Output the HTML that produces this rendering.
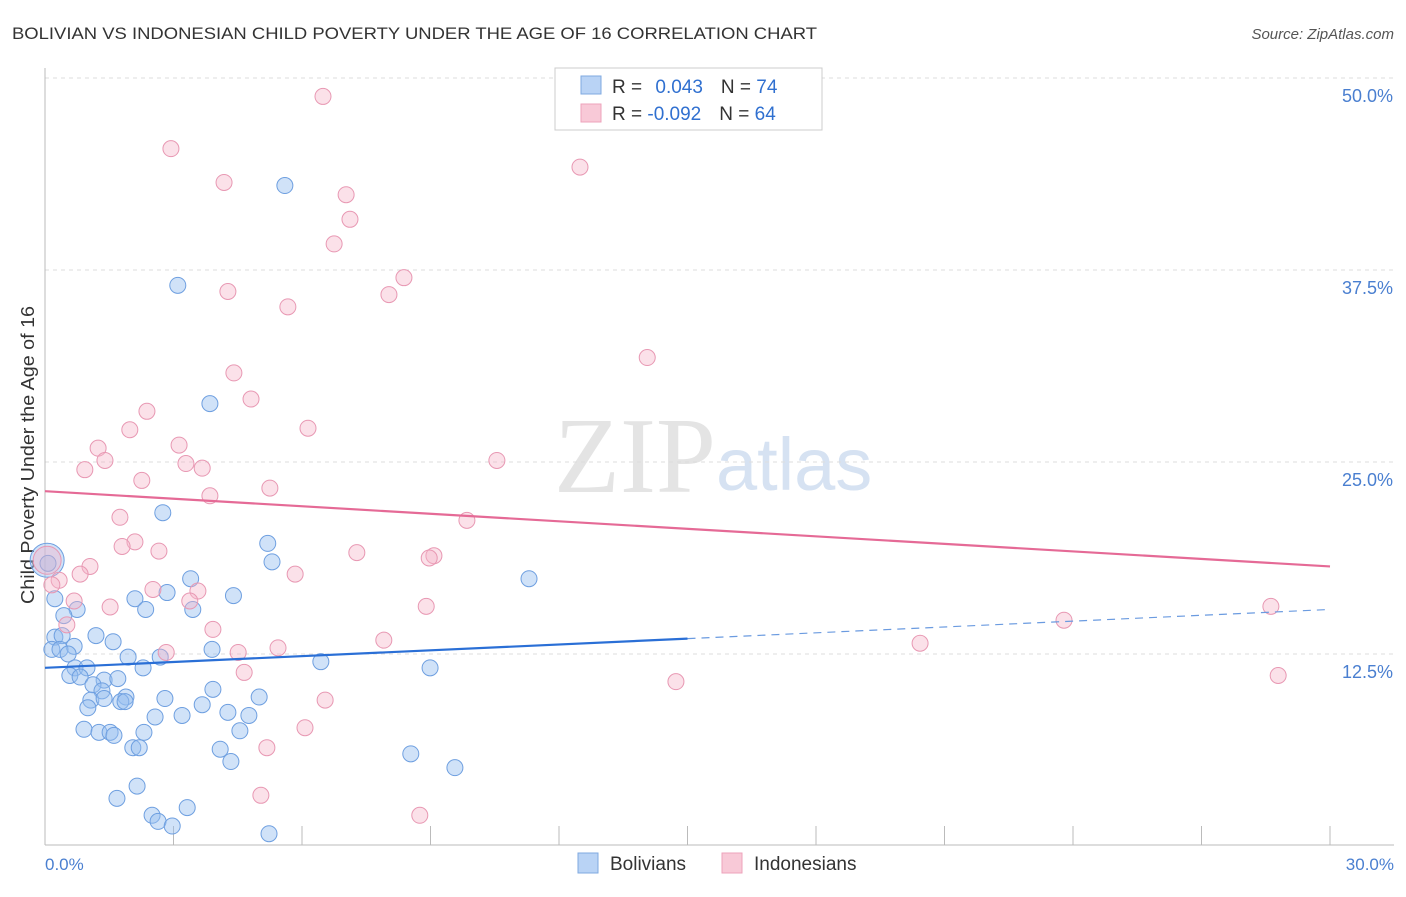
<!DOCTYPE html>
<html><head><meta charset="utf-8"><style>
body{margin:0;background:#fff;font-family:"Liberation Sans",sans-serif}
</style></head><body>
<svg width="1406" height="892" xmlns="http://www.w3.org/2000/svg">
<text x="12" y="39" font-size="17" fill="#333" textLength="805" lengthAdjust="spacingAndGlyphs">BOLIVIAN VS INDONESIAN CHILD POVERTY UNDER THE AGE OF 16 CORRELATION CHART</text>
<text x="1394" y="39" font-size="15" fill="#555" font-style="italic" text-anchor="end">Source: ZipAtlas.com</text>
<text x="716" y="492" font-size="108" fill="#e4e4e4" text-anchor="end" font-family="Liberation Serif">ZIP</text>
<text x="716" y="490" font-size="74" fill="#d6e2f2">atlas</text>
<g id="grid"></g>
<line x1="45" y1="68" x2="45" y2="845" stroke="#bbb"/>
<line x1="45" y1="845" x2="1394" y2="845" stroke="#bbb"/>
<text x="34" y="455" font-size="18" fill="#333" transform="rotate(-90 34 455)" text-anchor="middle" textLength="298" lengthAdjust="spacingAndGlyphs">Child Poverty Under the Age of 16</text>
<text x="45" y="870" font-size="17" fill="#4a7fd0">0.0%</text>
<text x="1394" y="870" font-size="17" fill="#4a7fd0" text-anchor="end">30.0%</text>
<g id="pts"></g>
<g id="trends"></g>
<g>
<rect x="555" y="68" width="267" height="62" fill="#fff" stroke="#ccc"/>
<rect x="581" y="76" width="20" height="18" fill="#b9d3f5" stroke="#7fa9e0"/>
<rect x="581" y="104" width="20" height="18" fill="#f8c9d7" stroke="#eea3bb"/>
<text x="612" y="93" font-size="19" fill="#333">R = <tspan fill="#3070d0" dx="8">0.043</tspan><tspan dx="18" fill="#333">N = </tspan><tspan fill="#3070d0">74</tspan></text>
<text x="612" y="120" font-size="19" fill="#333">R = <tspan fill="#3070d0">-0.092</tspan><tspan dx="18" fill="#333">N = </tspan><tspan fill="#3070d0">64</tspan></text>
</g>
<g>
<rect x="578" y="853" width="20" height="20" fill="#b9d3f5" stroke="#7fa9e0"/>
<text x="610" y="870" font-size="19" fill="#333">Bolivians</text>
<rect x="722" y="853" width="20" height="20" fill="#f8c9d7" stroke="#eea3bb"/>
<text x="754" y="870" font-size="19" fill="#333">Indonesians</text>
</g>
</svg>
<script>
const yTicks=[12.5,25,37.5,50];
const yTickLabels=["12.5%","25.0%","37.5%","50.0%"];
const xTicks=[3,6,9,12,15,18,21,24,27,30];
const bolX=[0.05,5.6,3.1,3.85,2.75,5.2,5.3,11.3,3.4,4.4,2.85,2.1,2.35,3.45,0.23,0.75,0.44,0.23,0.4,1.19,1.59,0.16,0.68,0.35,0.54,1.94,2.69,3.9,6.44,8.99,0.7,0.98,2.29,0.58,0.82,1.38,1.7,1.12,1.33,1.89,3.92,5.0,2.8,1.07,1.77,1.87,1.0,1.38,2.57,3.2,3.67,4.27,4.76,0.91,1.26,1.52,1.61,2.31,4.55,2.05,2.2,4.09,4.34,8.54,9.57,2.15,1.68,3.32,2.5,2.64,2.97,5.23,0.07];
const bolY=[18.6,43.0,36.5,28.8,21.7,19.7,18.5,17.4,17.4,16.3,16.5,16.1,15.4,15.4,16.1,15.4,15.0,13.6,13.7,13.7,13.3,12.8,13.0,12.8,12.5,12.3,12.3,12.8,12.0,11.6,11.6,11.6,11.6,11.1,11.0,10.8,10.9,10.5,10.1,9.7,10.2,9.7,9.6,9.5,9.4,9.4,9.0,9.6,8.4,8.5,9.2,8.7,8.5,7.6,7.4,7.4,7.2,7.4,7.5,6.4,6.4,6.3,5.5,6.0,5.1,3.9,3.1,2.5,2.0,1.6,1.3,0.8,18.4];
const indX=[6.49,2.94,4.18,12.49,7.03,7.12,6.75,8.38,4.27,8.03,5.67,14.06,4.41,4.81,2.38,6.14,1.98,3.13,1.24,1.4,3.29,3.67,0.93,10.55,5.25,2.26,3.85,1.75,9.85,2.1,1.8,2.66,7.28,9.08,8.97,1.05,0.82,5.84,0.33,0.16,2.52,3.57,0.68,3.38,1.52,8.9,28.62,23.79,0.51,3.92,7.91,5.44,4.51,2.83,20.43,4.65,14.73,28.79,6.54,6.07,5.18,5.04,8.75,0.05];
const indY=[48.8,45.4,43.2,44.2,42.4,40.8,39.2,37.0,36.1,35.9,35.1,31.8,30.8,29.1,28.3,27.2,27.1,26.1,25.9,25.1,24.9,24.6,24.5,25.1,23.3,23.8,22.8,21.4,21.2,19.8,19.5,19.2,19.1,18.9,18.75,18.2,17.7,17.7,17.3,17.0,16.7,16.6,15.95,15.95,15.56,15.6,15.6,14.7,14.4,14.1,13.4,12.9,12.6,12.6,13.2,11.3,10.7,11.1,9.5,7.7,6.4,3.3,2.0,18.6];
const bolTrend=[[0,11.6],[15,13.5],[30,15.4]];
const indTrend=[[0,23.1],[30,18.2]];
const X=v=>45+v*1285/30, Y=v=>654-(v-12.5)*192/12.5;
const NS="http://www.w3.org/2000/svg";
const grid=document.getElementById('grid');
yTicks.forEach((t,i)=>{
 const l=document.createElementNS(NS,'line');
 l.setAttribute('x1',45);l.setAttribute('x2',1394);l.setAttribute('y1',Y(t));l.setAttribute('y2',Y(t));
 l.setAttribute('stroke','#ddd');l.setAttribute('stroke-dasharray','4,4');
 
 
 grid.appendChild(l);
 const tx=document.createElementNS(NS,'text');
 tx.setAttribute('x',1393);tx.setAttribute('y',Y(t)+24);tx.setAttribute('text-anchor','end');
 tx.setAttribute('font-size','18');tx.setAttribute('fill','#4a7fd0');tx.textContent=yTickLabels[i];
 
 
 grid.appendChild(tx);
});
xTicks.forEach(t=>{
 const l=document.createElementNS(NS,'line');
 l.setAttribute('x1',X(t));l.setAttribute('x2',X(t));l.setAttribute('y1',826);l.setAttribute('y2',845);
 l.setAttribute('stroke','#bbb');
 
 
 grid.appendChild(l);
});
const pts=document.getElementById('pts');
function dot(x,y,fill,stroke,r,name){
 const c=document.createElementNS(NS,'circle');
 c.setAttribute('cx',X(x));c.setAttribute('cy',Y(y));c.setAttribute('r',r);
 c.setAttribute('fill',fill);c.setAttribute('stroke',stroke);c.setAttribute('stroke-width','1');
 
 
 pts.appendChild(c);
}
bolX.forEach((x,i)=>dot(x,bolY[i],'rgba(150,190,240,0.45)','#6e9fe0',i==0?17:8,'bolivian-point'));
indX.forEach((x,i)=>dot(x,indY[i],'rgba(245,180,200,0.4)','#e898b3',i==indX.length-1?14:8,'indonesian-point'));
const tr=document.getElementById('trends');
function seg(a,b,col,dash,name){
 const l=document.createElementNS(NS,'line');
 l.setAttribute('x1',X(a[0]));l.setAttribute('y1',Y(a[1]));l.setAttribute('x2',X(b[0]));l.setAttribute('y2',Y(b[1]));
 l.setAttribute('stroke',col);l.setAttribute('stroke-width',dash?1.2:2.2);
 if(dash)l.setAttribute('stroke-dasharray','8,6');
 
 
 tr.appendChild(l);
}
seg(bolTrend[0],bolTrend[1],'#2a6fd6',false,'bolivian-trend-line');
seg(bolTrend[1],bolTrend[2],'#6b9be0',true,'bolivian-trend-extension');
seg(indTrend[0],indTrend[1],'#e56a96',false,'indonesian-trend-line');
</script>
</body></html>
